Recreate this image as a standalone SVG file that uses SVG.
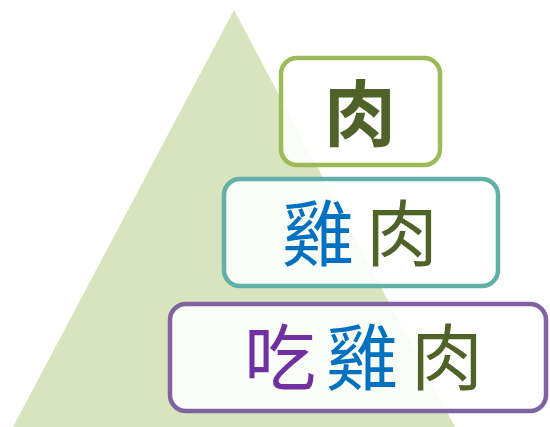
<svg xmlns="http://www.w3.org/2000/svg" width="550" height="427" viewBox="0 0 550 427">
<style>
.box{fill:#ffffff;fill-opacity:0.88;stroke-width:4.5}
.t{font-family:"Noto Sans CJK TC","Noto Sans CJK SC",sans-serif;font-size:72px;text-anchor:middle}
.g{fill:#4f6228}.b{fill:#0070c0}.p{fill:#7030a0}
</style>
<polygon points="234,10 13,427 455,427" fill="#d7e4bd"/>
<g id="connectors"/>
<g id="node1">
<rect class="box" x="281" y="58" width="159" height="107" rx="16" stroke="#9bbb59"/>
<text class="t g" x="360" y="140" font-weight="700">肉</text>
</g>
<g id="node2">
<rect class="box" x="224" y="179" width="274" height="107" rx="16" stroke="#62b0a8"/>
<text class="t" y="260"><tspan class="b" x="318">雞</tspan><tspan class="g" x="402">肉</tspan></text>
</g>
<g id="node3">
<rect class="box" x="170" y="304" width="376" height="107" rx="16" stroke="#8064a2"/>
<text class="t" y="384"><tspan class="p" x="280">吃</tspan><tspan class="b" x="362">雞</tspan><tspan class="g" x="447">肉</tspan></text>
</g>
</svg>
